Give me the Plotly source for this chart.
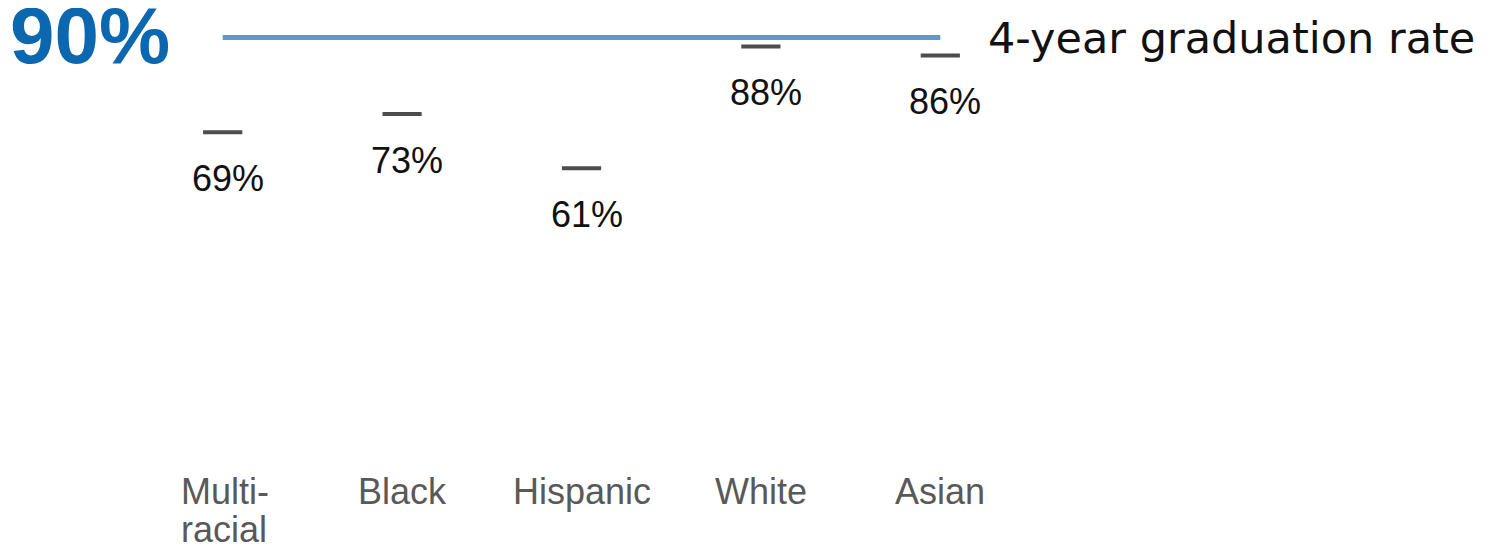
import plotly.graph_objects as go

categories = ["Multi-racial", "Black", "Hispanic", "White", "Asian"]
tick_labels = ["Multi-<br>racial", "Black", "Hispanic", "White", "Asian"]
rates = [69, 73, 61, 88, 86]
rate_labels = ["69%", "73%", "61%", "88%", "86%"]
target = 90
target_label = "90%"
target_name = "4-year graduation rate"

fig = go.Figure()

fig.add_trace(go.Scatter(
    x=[categories[0], categories[-1]], y=[target, target],
    mode="lines", line=dict(color="#5B9BD5", width=5),
    hoverinfo="skip", showlegend=False,
))

fig.add_trace(go.Scatter(
    x=categories, y=rates, mode="markers",
    marker=dict(symbol="line-ew", size=28, line=dict(color="#4d4d4d", width=4)),
    showlegend=False,
))

for c, v, t in zip(categories, rates, rate_labels):
    fig.add_annotation(x=c, y=v, text=t, showarrow=False, yshift=-46, xshift=5,
                       font=dict(family="Liberation Sans, Arial", size=36, color="#111"))

label_font = dict(family="Liberation Sans, Arial", size=36, color="#595959")
for c, t in zip(categories, tick_labels):
    lines = t.split("<br>")
    widest = max(lines, key=len)
    for i, ln in enumerate(lines):
        # left-align wrapped lines by padding with the widest line's box
        fig.add_annotation(x=c, y=0, text=ln, showarrow=False, yanchor="top",
                           yshift=-26 - 38 * i,
                           xanchor="left" if len(lines) > 1 else "center",
                           xshift=-44 if len(lines) > 1 else 0,
                           font=label_font)

fig.add_annotation(xref="paper", yref="y", x=0.044, y=target, text="<b>" + target_label + "</b>",
                   showarrow=False, xanchor="right", yanchor="middle", yshift=2,
                   font=dict(family="Liberation Sans, Arial", size=80, color="#0A67B0"))
fig.add_annotation(xref="paper", yref="y", x=1.0, y=target, text=target_name,
                   showarrow=False, xanchor="left", xshift=-44, yanchor="middle",
                   font=dict(family="DejaVu Sans", size=43, color="#111"))

fig.update_layout(
    width=1487, height=541,
    margin=dict(l=125, r=465, t=7, b=106),
    plot_bgcolor="white", paper_bgcolor="white",
    xaxis=dict(type="category", categoryorder="array", categoryarray=categories,
               range=[-0.5, 4.5], showticklabels=False,
               showgrid=False, zeroline=False, showline=False),
    yaxis=dict(range=[0, 95], showticklabels=False, showgrid=False,
               zeroline=False, showline=False),
)

fig.write_html("out.html")
